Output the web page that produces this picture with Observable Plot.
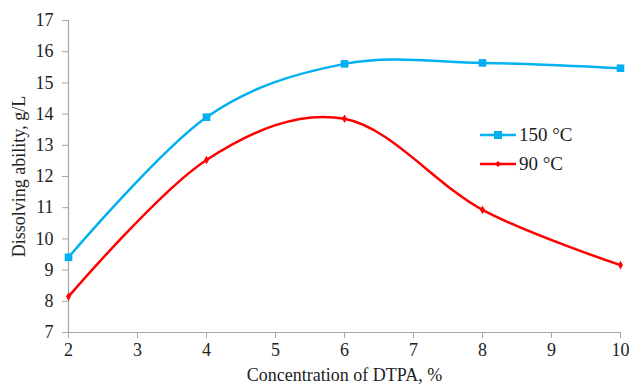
<!DOCTYPE html>
<html>
<head>
<meta charset="utf-8">
<script src="https://cdn.jsdelivr.net/npm/d3@7"></script>
<script src="https://cdn.jsdelivr.net/npm/@observablehq/plot@0.6"></script>
<style>
  html, body { margin: 0; padding: 0; background: #fff; }
  #wrap { position: relative; width: 630px; height: 385px; font-family: "Liberation Serif", "Times New Roman", serif; }
  #wrap svg text { font-size: 18px !important; }
  #legend { position: absolute; left: 480px; top: 120px; font-size: 19px; color: #222; }
  #legend .row { display: flex; align-items: center; height: 29px; }
  #legend svg { margin-right: 3px; }
</style>
</head>
<body>
<div id="wrap"></div>
<script>
const concentration = [2, 4, 6, 8, 10];
const series150 = [9.41, 13.9, 15.61, 15.64, 15.47];
const series90 = [8.15, 12.53, 13.85, 10.93, 9.16];
const seriesNames = ["150 \u00B0C", "90 \u00B0C"];
const xTicks = [2, 3, 4, 5, 6, 7, 8, 9, 10];
const yTicks = [7, 8, 9, 10, 11, 12, 13, 14, 15, 16, 17];
const blue = "#00B0F0";
const red = "#FF0000";

const d150 = concentration.map((c, i) => ({x: c, y: series150[i]}));
const d90 = concentration.map((c, i) => ({x: c, y: series90[i]}));

const chart = Plot.plot({
  width: 630,
  height: 385,
  marginLeft: 68,
  marginRight: 10,
  marginTop: 20,
  marginBottom: 53,
  style: {fontFamily: "'Liberation Serif', 'Times New Roman', serif", fontSize: "18px", color: "#222", background: "#fff"},
  x: {domain: [2, 10]},
  y: {domain: [7, 17]},
  marks: [
    Plot.ruleX([2], {stroke: "#a6a6a6", strokeWidth: 1.2}),
    Plot.ruleY([7], {stroke: "#a6a6a6", strokeWidth: 1.2}),
    Plot.axisX({ticks: xTicks, tickSize: 6, tickPadding: 5, stroke: "#a6a6a6", fontSize: 18, label: "Concentration of DTPA, %", labelAnchor: "center", labelArrow: "none", labelOffset: 48}),
    Plot.axisY({ticks: yTicks, tickSize: 6, tickPadding: 9, stroke: "#a6a6a6", fontSize: 18, label: "Dissolving ability, g/L", labelAnchor: "center", labelArrow: "none", labelOffset: 56}),
    Plot.line(d150, {x: "x", y: "y", curve: "cardinal", stroke: blue, strokeWidth: 2.5}),
    Plot.line(d90, {x: "x", y: "y", curve: "cardinal", stroke: red, strokeWidth: 2.5}),
    Plot.dot(d150, {x: "x", y: "y", symbol: "square", r: 4.3, fill: blue, stroke: "none"}),
    Plot.dot(d90, {x: "x", y: "y", symbol: "diamond", r: 2.6, fill: red, stroke: "none"})
  ]
});

const wrap = document.getElementById("wrap");
wrap.appendChild(chart);

const legend = document.createElement("div");
legend.id = "legend";
const items = [
  {name: seriesNames[0], color: blue, shape: "square"},
  {name: seriesNames[1], color: red, shape: "diamond"}
];
for (const it of items) {
  const row = document.createElement("div");
  row.className = "row";
  const marker = it.shape === "square"
    ? `<rect x="14" y="5" width="8" height="8" fill="${it.color}"/>`
    : `<path d="M18 6 L21 9 L18 12 L15 9 Z" fill="${it.color}"/>`;
  row.innerHTML = `<svg width="36" height="18"><line x1="0" y1="9" x2="36" y2="9" stroke="${it.color}" stroke-width="2.5"/>${marker}</svg><span>${it.name}</span>`;
  legend.appendChild(row);
}
wrap.appendChild(legend);
</script>
</body>
</html>
